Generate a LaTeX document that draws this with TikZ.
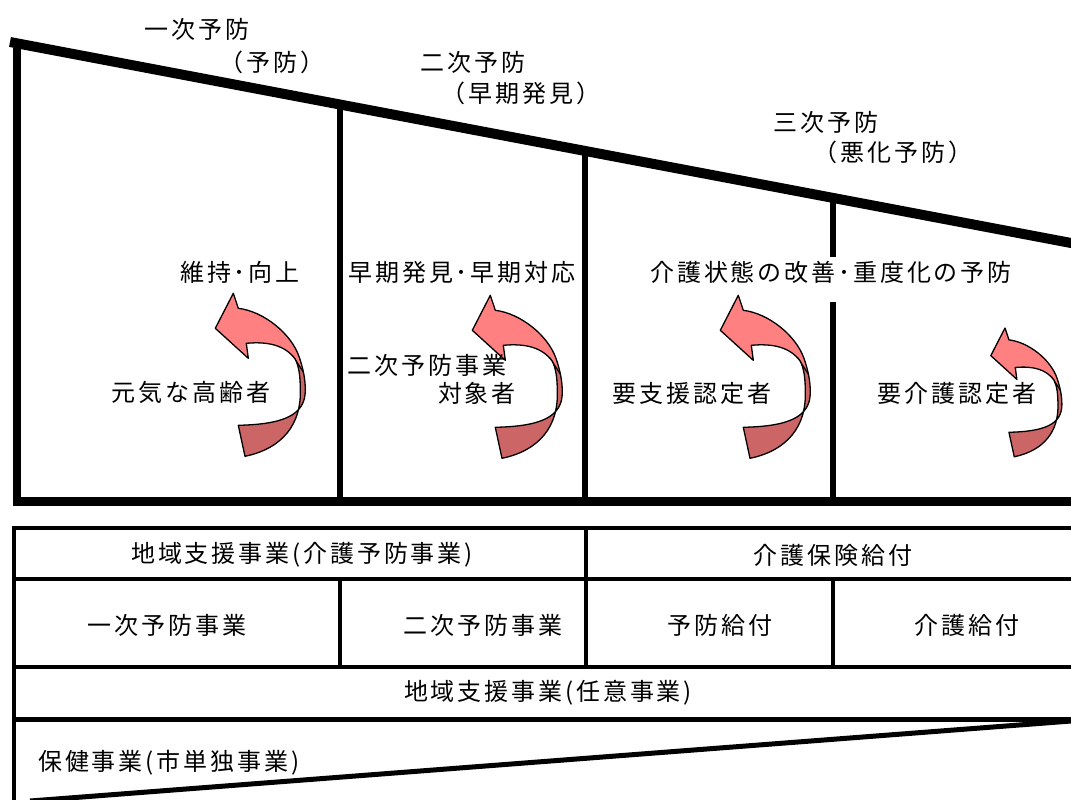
\documentclass[tikz,border=0pt]{standalone}
\usepackage{fontspec}
\newfontfamily\jp[LetterSpace=12]{Noto Sans CJK JP}
\definecolor{arrlight}{HTML}{FF8080}
\definecolor{arrdark}{HTML}{CC6666}
\tikzset{
  lbl/.style={inner sep=0pt, font=\jp\fontsize{24}{28}\selectfont},
  frame/.style={line width=#1},
  twist/.pic={
    \fill[arrlight] (0,0) -- (5,15) .. controls (30,18) and (58,40) .. (66,64)
      .. controls (70,76) and (72,86) .. (72,97) .. controls (72,122) and (50,131) .. (5,132)
      -- (11.7,163) .. controls (50,155) and (68,130) .. (67,97)
      .. controls (67,84) and (66,74) .. (62,66) .. controls (52,52) and (35,48) .. (13,50)
      -- (15,65) -- (-18,35) -- cycle;
    \begin{scope}
      \clip (0,0) -- (5,15) .. controls (30,18) and (58,40) .. (66,64)
      .. controls (70,76) and (72,86) .. (72,97) .. controls (72,122) and (50,131) .. (5,132)
      -- (11.7,163) .. controls (50,155) and (68,130) .. (67,97)
      .. controls (67,84) and (66,74) .. (62,66) .. controls (52,52) and (35,48) .. (13,50)
      -- (15,65) -- (-18,35) -- cycle;
      \fill[arrdark] (59,62) -- (75,86) -- (90,86) -- (90,200) -- (-40,200) -- (-40,90) -- (40,90) -- (40,62) -- cycle;
      \draw[line width=1.3pt] (59,62) -- (75,86);
    \end{scope}
    \draw[line width=1.3pt, line join=round] (0,0) -- (5,15) .. controls (30,18) and (58,40) .. (66,64)
      .. controls (70,76) and (72,86) .. (72,97) .. controls (72,122) and (50,131) .. (5,132)
      -- (11.7,163) .. controls (50,155) and (68,130) .. (67,97)
      .. controls (67,84) and (66,74) .. (62,66) .. controls (52,52) and (35,48) .. (13,50)
      -- (15,65) -- (-18,35) -- cycle;
  }
}
\begin{document}
\begin{tikzpicture}[x=1pt,y=-1pt]
\useasboundingbox (0,0) rectangle (1071,800);
\clip (0,0) rectangle (1071,800);
\fill[white] (0,0) rectangle (1071,800);

% ---- upper wedge ----
\draw[frame=10pt] (10,42) -- (1080,244.7);
\draw[frame=8pt] (16.7,48) -- (16.7,506);
\draw[frame=9pt] (12.5,501) -- (1071,501);
\draw[frame=6.5pt] (340,104) -- (340,497);
\draw[frame=6.5pt] (585,150) -- (585,497);
\draw[frame=6.5pt] (833,197) -- (833,257);
\draw[frame=6.5pt] (833,302) -- (833,497);

% ---- headings ----
\node[lbl] (h1) at (197,29) {一次予防};
\node[lbl] (h1b) at (272,62) {（予防）};
\node[lbl] (h2) at (473,62) {二次予防};
\node[lbl] (h2b) at (521,93) {（早期発見）};
\node[lbl] (h3) at (826,122) {三次予防};
\node[lbl] (h3b) at (893,152) {（悪化予防）};

% ---- goals ----
\node[lbl] (g1) at (240,272) {維持･向上};
\node[lbl] (g2) at (462,272) {早期発見･早期対応};
\node[lbl] (g3) at (831,272) {介護状態の改善･重度化の予防};

% ---- arrows ----
\pic at (233.3,293.3) {twist};
\pic at (490.3,295.3) {twist};
\pic at (738.3,295.3) {twist};
\pic[scale=0.79] at (1005,328) {twist};

% ---- target groups ----
\node[lbl] (t1) at (191,392) {元気な高齢者};
\node[lbl] (t2a) at (427,365) {二次予防事業};
\node[lbl] (t2b) at (477,393) {対象者};
\node[lbl] (t3) at (692,393) {要支援認定者};
\node[lbl] (t4) at (957,393) {要介護認定者};

% ---- table ----
\draw[frame=4.5pt] (1075,528) -- (14,528) -- (14,805);
\draw[frame=4.5pt] (14,579) -- (1075,579);
\draw[frame=4.5pt] (14,667) -- (1075,667);
\draw[frame=5pt] (14,719.5) -- (1075,719.5);
\draw[frame=3.5pt] (586,528) -- (586,667);
\draw[frame=3.5pt] (340,579) -- (340,667);
\draw[frame=3.5pt] (833,579) -- (833,667);
\draw[frame=5pt] (1075,720.7) -- (30,801);

\node[lbl] (r1a) at (302,555) {地域支援事業(介護予防事業)};
\node[lbl] (r1b) at (833,555) {介護保険給付};
\node[lbl] (r2a) at (167,625) {一次予防事業};
\node[lbl] (r2b) at (483,625) {二次予防事業};
\node[lbl] (r2c) at (720,625) {予防給付};
\node[lbl] (r2d) at (967,625) {介護給付};
\node[lbl] (r3) at (548,693) {地域支援事業(任意事業)};
\node[lbl, anchor=west] (r4) at (38,763) {保健事業(市単独事業)};
\end{tikzpicture}
\end{document}
